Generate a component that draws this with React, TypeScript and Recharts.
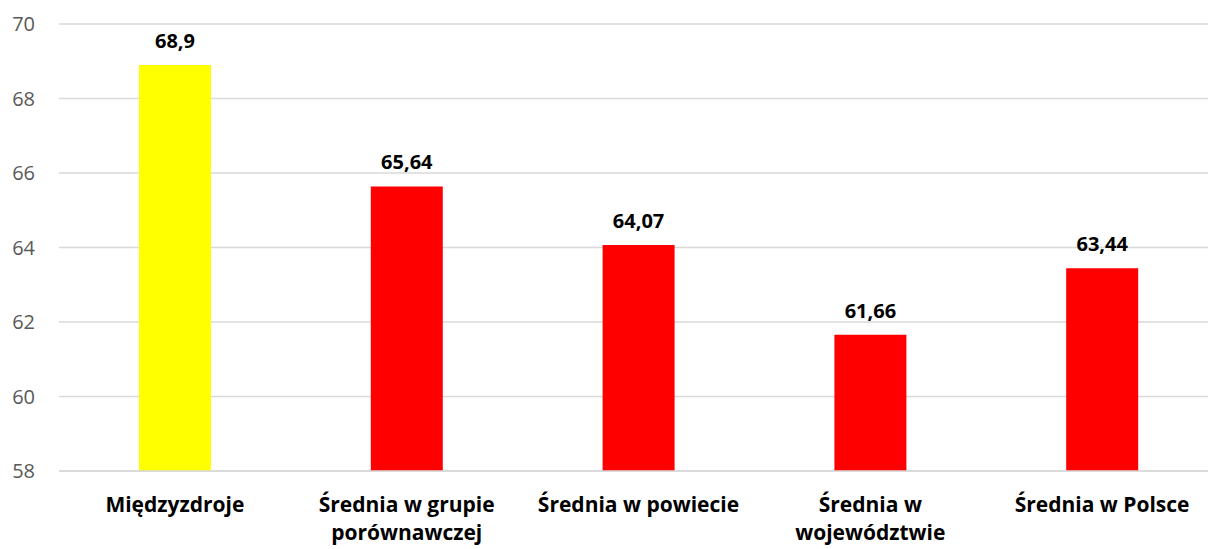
import { BarChart, Bar, XAxis, YAxis, CartesianGrid, Cell, LabelList } from "recharts";

const categories = [
  "Międzyzdroje",
  "Średnia w grupie\nporównawczej",
  "Średnia w powiecie",
  "Średnia w\nwojewództwie",
  "Średnia w Polsce",
];
const values = [68.9, 65.64, 64.07, 61.66, 63.44];
const barColors = ["#FFFF00", "#FF0000", "#FF0000", "#FF0000", "#FF0000"];
const yTicks = [58, 60, 62, 64, 66, 68, 70];

const data = categories.map((name, i) => ({ name, value: values[i] }));

const FONT = "'Open Sans', 'DejaVu Sans', sans-serif";

function CategoryTick({ x, y, payload }: any) {
  const lines = String(payload.value).split("\n");
  return (
    <text
      x={x}
      y={y}
      textAnchor="middle"
      fontFamily={FONT}
      fontSize={21}
      fontWeight={700}
      fill="#000000"
    >
      {lines.map((line, i) => (
        <tspan key={i} x={x} dy={i === 0 ? 33 : 28}>
          {line}
        </tspan>
      ))}
    </text>
  );
}

export default function App() {
  return (
    <div
      style={{
        position: "fixed",
        left: 0,
        top: 0,
        width: 1208,
        height: 549,
        overflow: "hidden",
        background: "#ffffff",
      }}
    >
      <BarChart
        width={1230}
        height={549}
        data={data}
        margin={{ top: 24, right: 12, bottom: 0, left: 0 }}
        barSize={72}
      >
        <CartesianGrid vertical={false} stroke="#D9D9D9" strokeWidth={1.5} />
        <XAxis
          dataKey="name"
          axisLine={{ stroke: "#D9D9D9", strokeWidth: 1.5 }}
          tickLine={false}
          tick={<CategoryTick />}
          interval={0}
          height={78}
        />
        <YAxis
          width={59}
          domain={[58, 70]}
          ticks={yTicks}
          axisLine={false}
          tickLine={false}
          tickSize={0}
          tickMargin={24}
          tick={{ fontFamily: FONT, fontSize: 20, fill: "#595959" }}
        />
        <Bar dataKey="value" isAnimationActive={false}>
          {data.map((d, i) => (
            <Cell key={d.name} fill={barColors[i]} />
          ))}
          <LabelList
            dataKey="value"
            position="top"
            offset={17}
            formatter={(v: any) => String(v).replace(".", ",")}
            style={{ fontFamily: FONT, fontSize: 20, fontWeight: 700, fill: "#000000" }}
          />
        </Bar>
      </BarChart>
    </div>
  );
}
